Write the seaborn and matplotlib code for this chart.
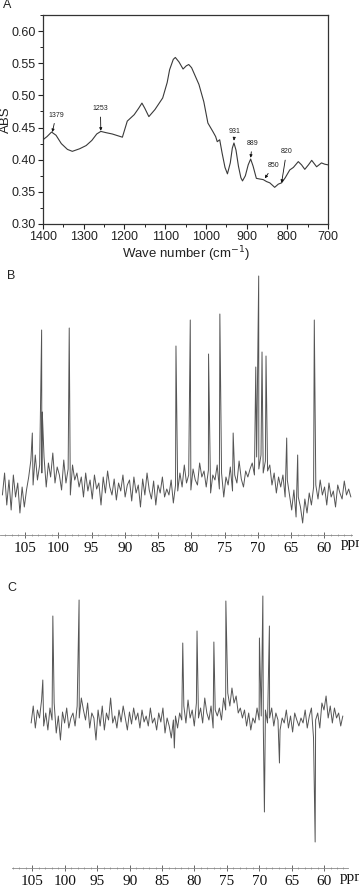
import numpy as np
import pandas as pd
import matplotlib
matplotlib.use("Agg")
import matplotlib.pyplot as plt
from matplotlib.ticker import MultipleLocator
import seaborn as sns

# ---------------- data ----------------
# Panel A: IR spectrum
ir_wn = [1400, 1390, 1379, 1368, 1355, 1340, 1328, 1310, 1294, 1280, 1268, 1258, 1245, 1230,
         1215, 1205, 1193, 1176, 1165, 1157, 1150, 1140, 1125, 1106, 1095, 1089, 1080, 1075,
         1066, 1056, 1048, 1042, 1035, 1017, 1005, 995, 983, 976, 972, 966, 960, 953, 947,
         940, 935, 931, 926, 920, 914, 910, 903, 896, 890, 884, 876, 868, 859, 851, 843, 836,
         831, 822, 814, 805, 794, 785, 773, 765, 757, 748, 740, 734, 728, 722, 716, 708, 700]
ir_abs = [0.431, 0.436, 0.443, 0.438, 0.425, 0.416, 0.413, 0.417, 0.422, 0.430, 0.440, 0.444,
          0.442, 0.440, 0.437, 0.435, 0.460, 0.470, 0.480, 0.488, 0.480, 0.467, 0.478, 0.496,
          0.520, 0.540, 0.556, 0.559, 0.552, 0.541, 0.546, 0.548, 0.543, 0.517, 0.490, 0.457,
          0.444, 0.436, 0.428, 0.431, 0.410, 0.388, 0.378, 0.395, 0.418, 0.426, 0.415, 0.390,
          0.372, 0.367, 0.375, 0.392, 0.401, 0.390, 0.371, 0.370, 0.369, 0.366, 0.364, 0.360,
          0.357, 0.362, 0.364, 0.372, 0.384, 0.388, 0.397, 0.392, 0.385, 0.392, 0.399, 0.394,
          0.389, 0.392, 0.395, 0.393, 0.392]
ir_labels = ["1379", "1253", "931", "889", "850", "820"]
ir_tip_wn = [1377, 1258, 931, 890, 855, 814]
ir_tip_abs = [0.443, 0.445, 0.430, 0.403, 0.371, 0.364]
ir_text_wn = [1368, 1259, 929, 886, 834, 802]
ir_text_abs = [0.469, 0.479, 0.444, 0.425, 0.391, 0.412]

# Panel B: 13C NMR spectrum (intensity in arbitrary units)
b_noise_start, b_noise_stop = 108.4, 56.0
b_noise = [40, 62, 30, 55, 25, 60, 38, 52, 22, 48, 28, 45,
           58, 75, 50, 80, 55, 70, 62, 78, 48, 72, 58, 82, 52, 68,
           60, 45, 75, 52, 66, 40, 70, 55, 62, 48,
           58, 38, 62, 44, 55, 36, 60, 46, 52, 30, 58, 42, 64, 48, 40, 56, 35, 52, 44, 60, 38, 50,
           55, 34, 58, 42, 50, 28, 56, 40, 62, 45, 36, 54, 30, 50, 42, 58, 38, 46,
           40, 55, 32, 50, 44,
           62, 48, 70, 52, 60, 45, 66, 55, 50, 72, 58, 64,
           48, 65, 42, 60, 55, 70, 46, 62, 38, 58, 50, 68, 44, 60, 52, 74, 56, 48, 64, 58, 66,
           72, 60, 78, 66, 80, 62, 74, 64, 70,
           50, 62, 42, 58, 48, 60, 38, 55,
           40, 25, 45, 18, 38, 28, 12, 36, 22, 42, 30, 48,
           50, 36, 55, 40, 48, 30, 52, 38, 44, 28, 50, 42, 36, 54, 40, 46, 38]
b_peak_ppm = [103.9, 102.5, 102.4, 98.35, 82.3, 80.15, 77.4, 75.7, 75.6, 73.7, 70.3, 69.86,
              69.36, 68.76, 65.65, 64.0, 61.5]
b_peak_int = [102, 205, 123, 207, 189, 215, 181, 221, 159, 102, 168, 259,
              183, 179, 97, 80, 215]

# Panel C: DEPT spectrum
c_noise_start, c_noise_stop = 105.2, 57.1
c_noise = [145, 162, 140, 158, 150, 168, 142, 155, 138, 160,
           148, 165, 135, 152, 128, 156, 145, 160, 140, 150,
           155, 142, 162, 150, 170, 158, 148, 165, 140, 155,
           150, 128, 158, 142, 162, 138, 155, 148, 170, 145,
           152, 140, 158, 146, 162, 150, 138, 156, 144, 160,
           148, 155, 140, 158, 146, 152, 142, 160, 145, 150,
           138, 155, 146, 160, 135, 150, 142, 130, 148, 152,
           140, 155, 148, 162, 145, 168, 150, 158, 142, 165,
           150, 160, 145, 170, 155, 148, 162, 140, 158, 152,
           160, 148, 170, 158, 175, 162, 180, 165, 172, 155,
           160, 150, 158, 142, 155, 138, 150, 145, 160, 148,
           152, 140, 158, 145, 150, 160, 142, 155, 148, 138,
           150, 145, 158, 140, 152, 136, 155, 148, 142, 150,
           145, 158, 140, 152, 160, 130, 148, 155, 140, 165,
           158, 172, 150, 162, 145, 160, 150, 155, 142, 152]
c_peak_ppm = [103.4, 101.85, 97.8, 83.1, 81.8, 79.6, 77.0, 75.15, 69.97, 69.44, 69.2,
              68.43, 66.88, 61.37]
c_peak_int = [188, 252, 268, 120, 225, 237, 226, 267, 230, 272, 56, 242, 105, 26]

nmr_ticks = [105, 100, 95, 90, 85, 80, 75, 70, 65, 60]

# ---------------- style ----------------
sns.set_style("ticks")
plt.rcParams["font.family"] = ["Liberation Sans", "DejaVu Sans"]

fig = plt.figure(figsize=(3.59, 8.92), dpi=100)
W, H = 359.0, 892.0


def px_axes(x0, y0, x1, y1):
    return fig.add_axes([x0 / W, 1 - y1 / H, (x1 - x0) / W, (y1 - y0) / H])


# ---------------- Panel A ----------------
axA = px_axes(43, 15, 328, 224)
ir_df = pd.DataFrame({"wn": ir_wn, "abs": ir_abs})
sns.lineplot(data=ir_df, x="wn", y="abs", ax=axA, color="#3a3a3a", lw=0.8,
             sort=False, estimator=None)
axA.set_xlim(1400, 700)
axA.set_ylim(0.30, 0.625)
axA.set_yticks([0.30, 0.35, 0.40, 0.45, 0.50, 0.55, 0.60])
axA.set_yticklabels(["0.30", "0.35", "0.40", "0.45", "0.50", "0.55", "0.60"])
axA.set_xticks(list(range(1400, 699, -100)))
axA.xaxis.set_minor_locator(MultipleLocator(50))
axA.yaxis.set_minor_locator(MultipleLocator(0.025))
axA.tick_params(which="major", direction="out", length=3.5, width=0.8, labelsize=9,
                pad=1.5, colors="#222222")
axA.tick_params(which="minor", direction="out", length=2, width=0.7, colors="#222222")
for s in axA.spines.values():
    s.set_linewidth(0.9)
    s.set_color("#333333")
axA.set_xlabel("Wave number (cm$^{-1}$)", fontsize=9.5, labelpad=1, color="#222222")
axA.set_ylabel("ABS", fontsize=9.5, labelpad=0, color="#222222")
for lab, tx, ty, ax_, ay_ in zip(ir_labels, ir_text_wn, ir_text_abs, ir_tip_wn, ir_tip_abs):
    axA.annotate(lab, xy=(ax_, ay_), xytext=(tx, ty), fontsize=5, ha="center",
                 va="center", color="#222222",
                 arrowprops=dict(arrowstyle="-|>", lw=0.6, color="#111111",
                                 mutation_scale=4, shrinkA=1, shrinkB=0))
fig.text(3 / W, 1 - 5 / H, "A", fontsize=9, va="center", ha="left", color="#222222")


def nmr_panel(ax, start, stop, noise, pk_ppm, pk_int, xlim, ylim):
    grid = np.linspace(start, stop, len(noise))
    df = pd.DataFrame({"ppm": np.concatenate([grid, pk_ppm]),
                       "I": np.concatenate([noise, pk_int])})
    df = df.sort_values("ppm", ascending=False)
    sns.lineplot(data=df, x="ppm", y="I", ax=ax, color="#555555", lw=0.7,
                 sort=False, estimator=None)
    ax.set_xlim(*xlim)
    ax.set_ylim(*ylim)
    ax.set_xticks(nmr_ticks)
    ax.set_xticklabels([str(t) for t in nmr_ticks])
    ax.xaxis.set_minor_locator(MultipleLocator(1))
    ax.set_yticks([])
    ax.set_xlabel("")
    ax.set_ylabel("")
    for side in ["left", "top", "right"]:
        ax.spines[side].set_visible(False)
    ax.spines["bottom"].set_color("#888888")
    ax.spines["bottom"].set_linewidth(0.6)
    ax.tick_params(which="major", direction="inout", length=5, width=0.7, colors="#666666",
                   labelcolor="#111111", labelsize=11, pad=2.5)
    ax.tick_params(which="minor", direction="inout", length=2, width=0.5, colors="#888888")
    for lab in ax.get_xticklabels():
        lab.set_family(["Liberation Serif", "DejaVu Serif"])
    ax.patch.set_alpha(0)


# ---------------- Panel B ----------------
axB = px_axes(0, 270, 352, 535)
nmr_panel(axB, b_noise_start, b_noise_stop, b_noise, b_peak_ppm, b_peak_int,
          (108.76, 55.83), (0, 265))
fig.text(7 / W, 1 - 276 / H, "B", fontsize=9, va="center", ha="left", color="#222222")
fig.text(341 / W, 1 - 543 / H, "ppm", fontsize=11, va="center", ha="left",
         family=["Liberation Serif", "DejaVu Serif"], color="#111111")

# ---------------- Panel C ----------------
axC = px_axes(11.7, 590, 348, 868)
nmr_panel(axC, c_noise_start, c_noise_stop, c_noise, c_peak_ppm, c_peak_int,
          (108.2, 56.3), (0, 278))
fig.text(7 / W, 1 - 588 / H, "C", fontsize=9, va="center", ha="left", color="#222222")
fig.text(340 / W, 1 - 878 / H, "ppm", fontsize=11, va="center", ha="left",
         family=["Liberation Serif", "DejaVu Serif"], color="#111111")

fig.savefig("out.png", dpi=100)
